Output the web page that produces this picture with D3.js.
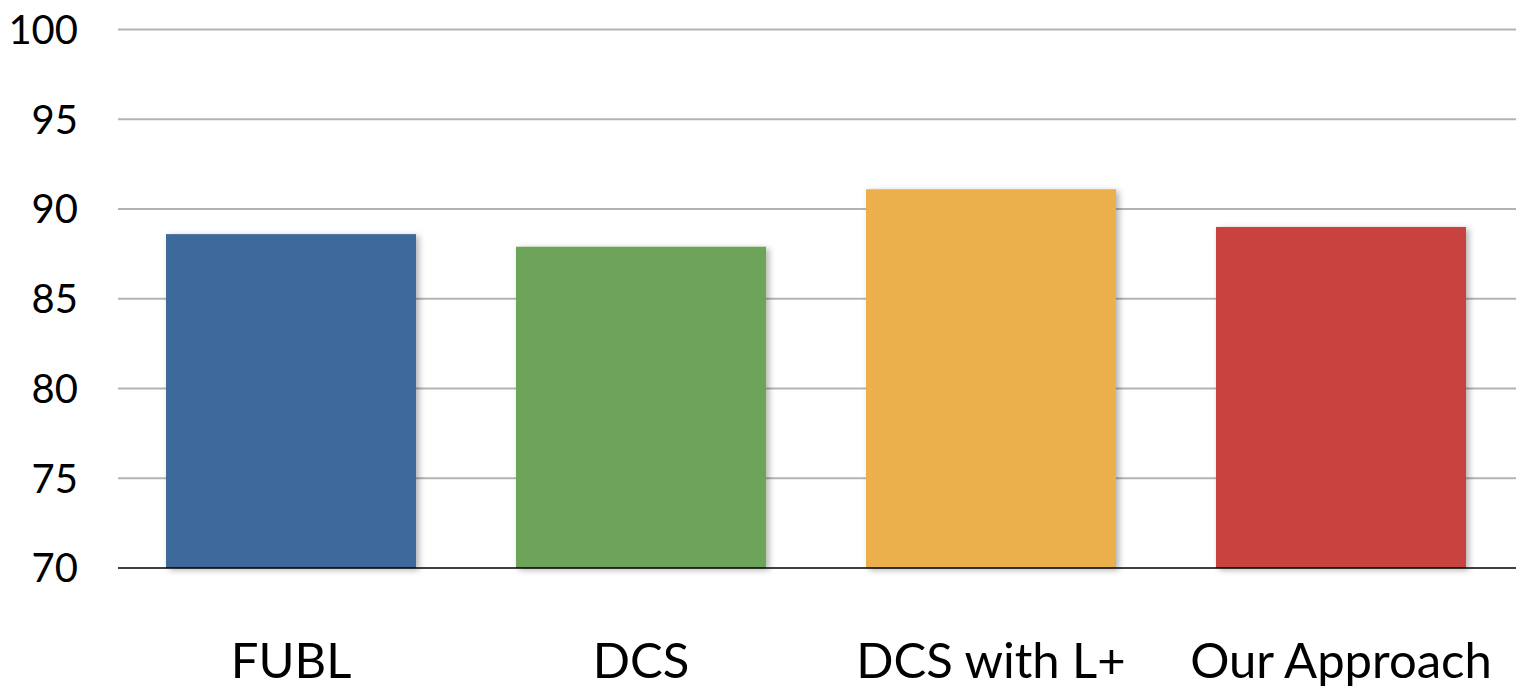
<!DOCTYPE html>
<html lang="en">
<head>
<meta charset="UTF-8">
<title>Accuracy comparison</title>
<script src="https://d3js.org/d3.v7.min.js"></script>
<style>
    body { margin: 0; background: #fff; }
    svg { display: block; }
    text { font-family: "Lato", "Open Sans", sans-serif; fill: #000; }
</style>
</head>
<body>
<svg width="1524" height="692"></svg>
<script>
    const categories = ["FUBL", "DCS", "DCS with L+", "Our Approach"];
    const values = [88.6, 87.9, 91.1, 89.0];
    const colors = ["#3d6a9a", "#6ea35a", "#ebaf4c", "#c8423f"];
    const yTicks = [70, 75, 80, 85, 90, 95, 100];

    const svg = d3.select("svg");
    const width = 1524, height = 692;
    const gridLeft = 118, gridRight = 1516;

    const x = d3.scaleBand()
        .domain(categories)
        .range([116, 1516])
        .paddingInner(0.2857)
        .paddingOuter(0.1429);

    const y = d3.scaleLinear()
        .domain([70, 100])
        .range([568, 29.5]);

    // soft shadow behind the bars
    const defs = svg.append("defs");
    defs.append("filter")
        .attr("id", "shadow")
        .attr("x", "-10%").attr("y", "-10%")
        .attr("width", "120%").attr("height", "120%")
        .append("feDropShadow")
        .attr("dx", 3).attr("dy", 2)
        .attr("stdDeviation", 3)
        .attr("flood-color", "#000")
        .attr("flood-opacity", 0.3);

    // gridlines
    svg.append("g")
        .selectAll("line")
        .data(yTicks.filter(d => d > 70))
        .join("line")
        .attr("x1", gridLeft)
        .attr("x2", gridRight)
        .attr("y1", d => y(d))
        .attr("y2", d => y(d))
        .attr("stroke", "#b3b3b3")
        .attr("stroke-width", 2);

    // y labels
    svg.append("g")
        .selectAll("text")
        .data(yTicks)
        .join("text")
        .attr("x", 78)
        .attr("y", d => y(d))
        .attr("dy", "0.36em")
        .attr("text-anchor", "end")
        .attr("font-size", 40)
        .text(d => d);

    // bars
    svg.append("g")
        .selectAll("rect")
        .data(values)
        .join("rect")
        .attr("x", (d, i) => x(categories[i]))
        .attr("width", x.bandwidth())
        .attr("y", d => y(d))
        .attr("height", d => y(70) - y(d))
        .attr("fill", (d, i) => colors[i])
        .attr("filter", "url(#shadow)");

    // baseline
    svg.append("line")
        .attr("x1", gridLeft)
        .attr("x2", gridRight)
        .attr("y1", y(70))
        .attr("y2", y(70))
        .attr("stroke", "#000")
        .attr("stroke-width", 1.5);

    // category labels
    svg.append("g")
        .selectAll("text")
        .data(categories)
        .join("text")
        .attr("x", d => x(d) + x.bandwidth() / 2)
        .attr("y", 678)
        .attr("text-anchor", "middle")
        .attr("font-size", 49)
        .text(d => d);
</script>
</body>
</html>
